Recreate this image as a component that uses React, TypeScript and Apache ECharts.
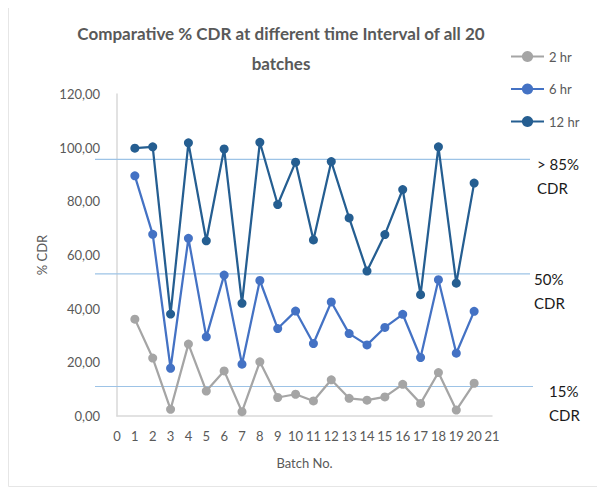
import React, { useEffect, useRef } from "react";
import * as echarts from "echarts";

const batches = [1, 2, 3, 4, 5, 6, 7, 8, 9, 10, 11, 12, 13, 14, 15, 16, 17, 18, 19, 20];
const hr2 = [36.1, 21.6, 2.5, 26.8, 9.3, 16.8, 1.6, 20.2, 6.9, 8.1, 5.6, 13.5, 6.6, 5.9, 7.1, 11.8, 4.7, 16.2, 2.2, 12.2];
const hr6 = [89.5, 67.7, 17.8, 66.2, 29.5, 52.5, 19.3, 50.5, 32.6, 39.1, 27.0, 42.5, 30.7, 26.5, 33.0, 37.9, 21.8, 50.8, 23.4, 39.0];
const hr12 = [99.8, 100.3, 38.0, 101.8, 65.3, 99.5, 42.0, 102.0, 78.8, 94.6, 65.6, 94.8, 73.8, 54.0, 67.6, 84.4, 45.2, 100.3, 49.5, 86.8];
const seriesNames = ["2 hr", "6 hr", "12 hr"];
const thresholds = [95.6, 53.0, 11.0];
const thresholdLabels = ["> 85%\nCDR", "50%\nCDR", "15%\nCDR"];
const yTicks = [0, 20, 40, 60, 80, 100, 120];

const colors = ["#a5a5a5", "#4472c4", "#255e91"];
const FONT = "Lato, 'Open Sans', sans-serif";

export default function App() {
  const ref = useRef<HTMLDivElement>(null);
  useEffect(() => {
    if (!ref.current) return;
    const chart = echarts.init(ref.current, undefined, { renderer: "svg" });
    const mk = (name: string, vals: number[], color: string) => ({
      name,
      type: "line",
      data: batches.map((b, i) => [b, vals[i]]),
      symbol: "circle",
      symbolSize: 9,
      itemStyle: { color },
      lineStyle: { color, width: 2.25 },
      z: 3,
    });
    chart.setOption({
      animation: false,
      textStyle: { fontFamily: FONT },
      title: {
        text: "Comparative % CDR at different time Interval of all 20\nbatches",
        left: 276,
        top: 13,
        textAlign: "center",
        textStyle: { fontSize: 17, fontWeight: "bold", color: "#595959", lineHeight: 30, fontFamily: FONT },
      },
      legend: {
        orient: "vertical",
        left: 505,
        top: 45,
        itemGap: 19.5,
        itemWidth: 33,
        itemHeight: 14,
        data: seriesNames,
        textStyle: { color: "#595959", fontSize: 13, fontFamily: FONT },
      },
      grid: { left: 117, right: 113, top: 94, bottom: 75, containLabel: false },
      xAxis: {
        type: "value",
        min: 0,
        max: 21,
        interval: 1,
        name: "Batch No.",
        nameLocation: "middle",
        nameGap: 40,
        nameTextStyle: { color: "#595959", fontSize: 13, fontFamily: FONT },
        axisLine: { show: true, lineStyle: { color: "#d9d9d9", width: 1.5 } },
        axisTick: { show: false },
        splitLine: { show: false },
        axisLabel: { color: "#595959", fontSize: 13, margin: 13, hideOverlap: false, fontFamily: FONT },
      },
      yAxis: {
        type: "value",
        min: yTicks[0],
        max: yTicks[yTicks.length - 1],
        interval: 20,
        name: "% CDR",
        nameLocation: "middle",
        nameGap: 68,
        nameRotate: 90,
        nameTextStyle: { color: "#595959", fontSize: 13, fontFamily: FONT },
        axisLine: { show: true, lineStyle: { color: "#d9d9d9", width: 1.5 } },
        axisTick: { show: false },
        splitLine: { show: false },
        axisLabel: {
          color: "#595959",
          fontSize: 13,
          margin: 17,
          fontFamily: FONT,
          formatter: (v: number) => v.toFixed(2).replace(".", ","),
        },
      },
      series: [mk(seriesNames[0], hr2, colors[0]), mk(seriesNames[1], hr6, colors[1]), mk(seriesNames[2], hr12, colors[2])],
    });

    const lineEnds = [530, 530, 533];
    const labelX = [537, 534, 549];
    const graphics: any[] = [
      {
        type: "rect",
        z: 0,
        shape: { x: 8.5, y: 5.5, width: 589, height: 481 },
        style: { fill: "none", stroke: "#e6e6e6", lineWidth: 1 },
      },
    ];
    thresholds.forEach((t, i) => {
      const y = chart.convertToPixel({ yAxisIndex: 0 }, t) as number;
      graphics.push({
        type: "line",
        z: 1,
        shape: { x1: 95, y1: y, x2: lineEnds[i], y2: y },
        style: { stroke: "#9dc3e6", lineWidth: 1.2 },
      });
      graphics.push({
        type: "text",
        z: 5,
        x: labelX[i],
        y: y - 7,
        style: {
          text: thresholdLabels[i],
          fill: "#1a1a1a",
          font: `15px ${FONT}`,
          lineHeight: 24,
          textVerticalAlign: "top",
        },
      });
    });
    chart.setOption({ graphic: graphics });

    return () => chart.dispose();
  }, []);
  return <div ref={ref} style={{ width: 605, height: 491, marginLeft: -8, marginTop: -8 }} />;
}
